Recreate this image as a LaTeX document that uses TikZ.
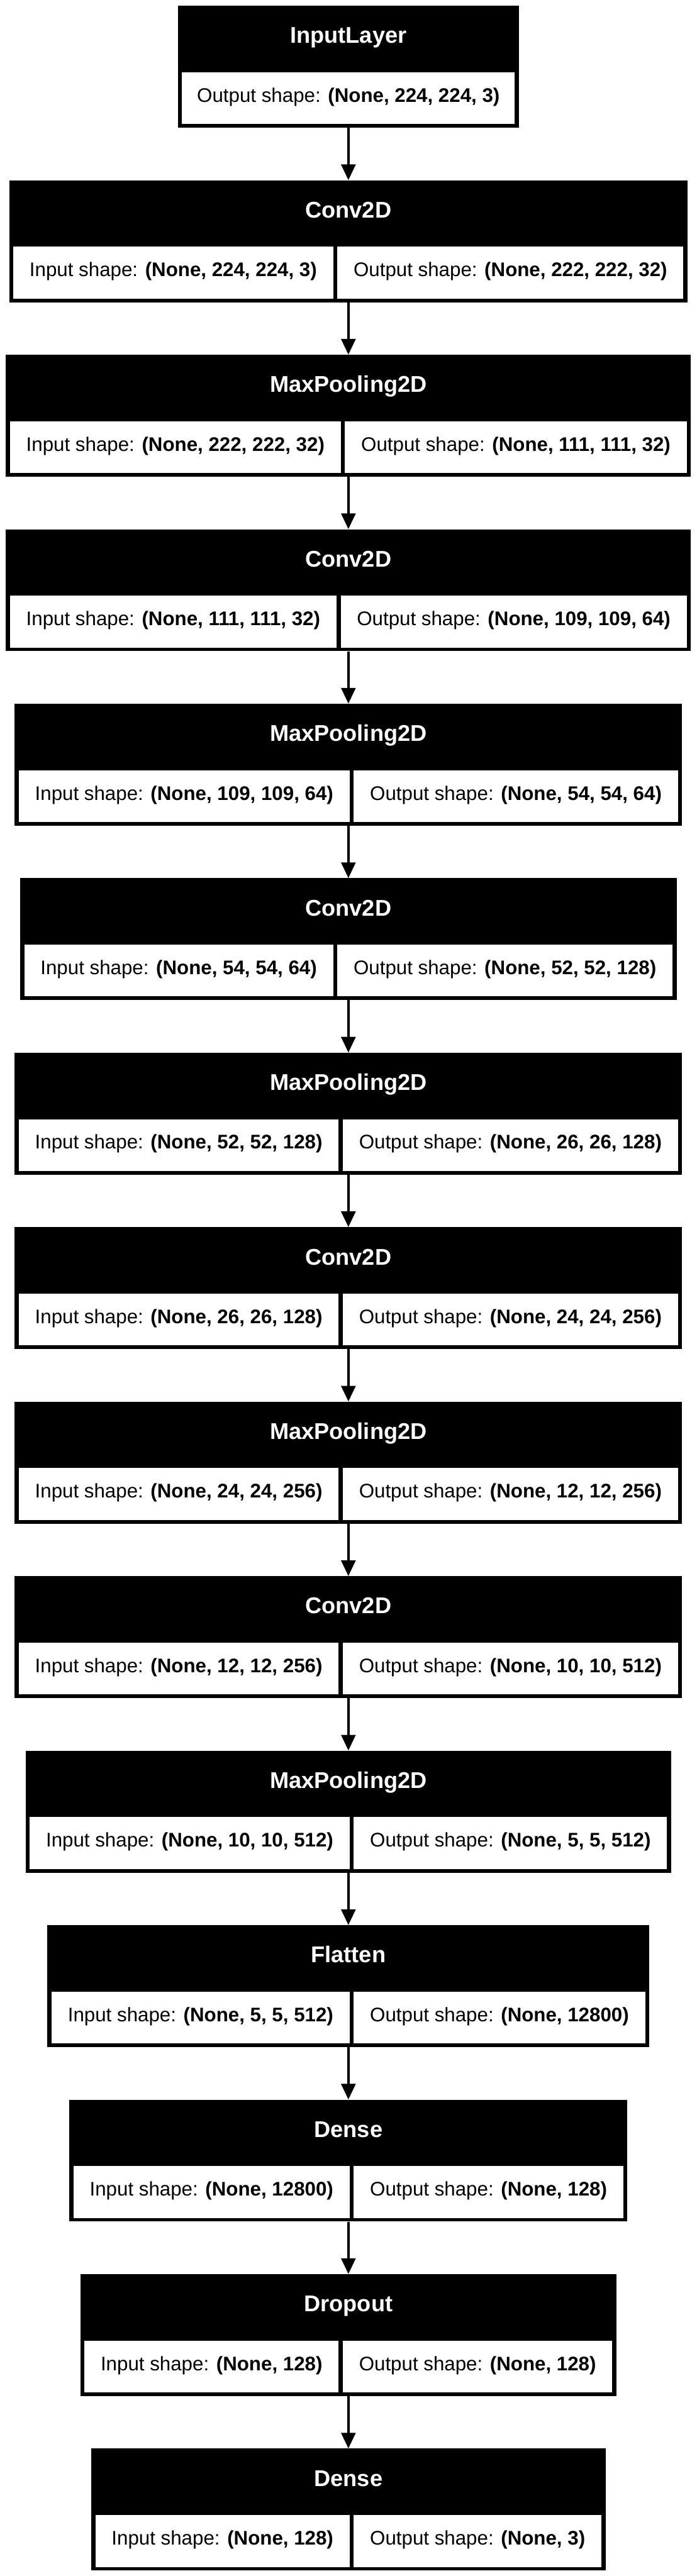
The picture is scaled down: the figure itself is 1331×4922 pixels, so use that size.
\documentclass[tikz,border=0pt]{standalone}
\usepackage{fontspec}
\setmainfont{Liberation Sans}
\usetikzlibrary{arrows.meta,calc}

\newcommand\cellfont{\fontsize{37.6}{45}\selectfont}
\newcommand\headfont{\fontsize{43.5}{52}\selectfont\bfseries}
\newlength\inw
\newlength\outw

% one layer: name, top, title, input shape, output shape
\newcommand\layer[5]{%
  \pgfinterruptpicture
    \settowidth\inw{\normalfont\cellfont Input shape: \textbf{#4}}\global\inw=\inw
    \settowidth\outw{\normalfont\cellfont Output shape: \textbf{#5}}\global\outw=\outw
  \endpgfinterruptpicture
  \global\advance\inw by 62pt
  \global\advance\outw by 62pt
  \pgfmathsetmacro\boxw{\inw+\outw+24}%
  \node[layer box,minimum width=\boxw pt] (#1) at (665.5,#2+116.5) {};
  \node[head text] at ($(#1.north)+(0,63.5)$) {#3};
  \node[shape cell,minimum width=\inw,anchor=north west] (#1-in)
    at ($(#1.north west)+(8,127)$) {Input shape: \textbf{#4}};
  \node[shape cell,minimum width=\outw,anchor=north east] (#1-out)
    at ($(#1.north east)+(-8,127)$) {Output shape: \textbf{#5}};
}

\begin{document}
\begin{tikzpicture}[x=1pt,y=-1pt,
  layer box/.style={rectangle,fill=black,inner sep=0pt,minimum height=233pt},
  head text/.style={text=white,font=\headfont,inner sep=0pt,text height=31pt,text depth=14pt},
  shape cell/.style={rectangle,fill=white,inner sep=0pt,minimum height=99pt,
    font=\cellfont,text height=27pt,text depth=12pt},
  flow/.style={line width=5pt,-{Triangle[width=27pt,length=30pt]}}]

  \useasboundingbox (0,0) rectangle (1331,4922);

  \node[layer box,minimum width=652pt] (input) at (665.5,127.5) {};
  \node[head text] at ($(input.north)+(0,63.5)$) {InputLayer};
  \node[shape cell,minimum width=636pt,anchor=north] (input-out)
    at ($(input.north)+(0,127)$) {Output shape: \textbf{(None, 224, 224, 3)}};

  \layer{conv1}{344.4}{Conv2D}{(None, 224, 224, 3)}{(None, 222, 222, 32)}
  \layer{pool1}{677.8}{MaxPooling2D}{(None, 222, 222, 32)}{(None, 111, 111, 32)}
  \layer{conv2}{1011.2}{Conv2D}{(None, 111, 111, 32)}{(None, 109, 109, 64)}
  \layer{pool2}{1344.6}{MaxPooling2D}{(None, 109, 109, 64)}{(None, 54, 54, 64)}
  \layer{conv3}{1678}{Conv2D}{(None, 54, 54, 64)}{(None, 52, 52, 128)}
  \layer{pool3}{2011.4}{MaxPooling2D}{(None, 52, 52, 128)}{(None, 26, 26, 128)}
  \layer{conv4}{2344.8}{Conv2D}{(None, 26, 26, 128)}{(None, 24, 24, 256)}
  \layer{pool4}{2678.2}{MaxPooling2D}{(None, 24, 24, 256)}{(None, 12, 12, 256)}
  \layer{conv5}{3011.6}{Conv2D}{(None, 12, 12, 256)}{(None, 10, 10, 512)}
  \layer{pool5}{3345}{MaxPooling2D}{(None, 10, 10, 512)}{(None, 5, 5, 512)}
  \layer{flat}{3678.4}{Flatten}{(None, 5, 5, 512)}{(None, 12800)}
  \layer{dense1}{4011.8}{Dense}{(None, 12800)}{(None, 128)}
  \layer{drop}{4345.2}{Dropout}{(None, 128)}{(None, 128)}
  \layer{dense2}{4678.6}{Dense}{(None, 128)}{(None, 3)}

  \path[flow]
    (input) edge (conv1)
    (conv1) edge (pool1)
    (pool1) edge (conv2)
    (conv2) edge (pool2)
    (pool2) edge (conv3)
    (conv3) edge (pool3)
    (pool3) edge (conv4)
    (conv4) edge (pool4)
    (pool4) edge (conv5)
    (conv5) edge (pool5)
    (pool5) edge (flat)
    (flat) edge (dense1)
    (dense1) edge (drop)
    (drop) edge (dense2);

\end{tikzpicture}
\end{document}
